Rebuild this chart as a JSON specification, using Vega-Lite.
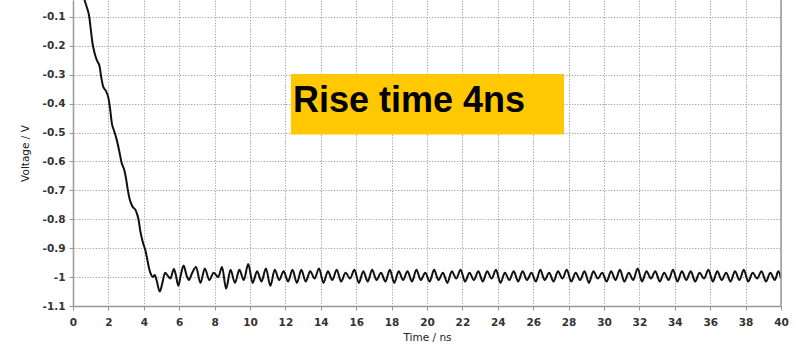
{
  "$schema": "https://vega.github.io/schema/vega-lite/v6.json",
  "width": 708,
  "height": 306,
  "autosize": {"type": "none"},
  "padding": {"left": 73, "top": 0, "right": 13, "bottom": 45},
  "config": {
    "view": {"stroke": null},
    "axis": {
      "labelFont": "DejaVu Sans",
      "labelFontWeight": "bold",
      "labelFontSize": 10.5,
      "labelColor": "#333333",
      "labelOverlap": false,
      "titleFont": "DejaVu Sans",
      "titleFontWeight": "normal",
      "titleFontSize": 10.5,
      "titleColor": "#222222",
      "domainColor": "#999999",
      "domainWidth": 1.5,
      "tickColor": "#999999",
      "tickSize": 4,
      "gridColor": "#a0a0a0",
      "gridDash": [1.2, 1.6],
      "gridWidth": 1
    }
  },
  "datasets": {
    "wave": [
      {"t": 0.55, "v": -0.0},
      {"t": 0.65, "v": -0.04},
      {"t": 0.75, "v": -0.06},
      {"t": 0.92, "v": -0.1},
      {"t": 1.0, "v": -0.14},
      {"t": 1.1, "v": -0.19},
      {"t": 1.2, "v": -0.22},
      {"t": 1.35, "v": -0.25},
      {"t": 1.5, "v": -0.27},
      {"t": 1.6, "v": -0.31},
      {"t": 1.7, "v": -0.34},
      {"t": 1.85, "v": -0.355},
      {"t": 2.0, "v": -0.38},
      {"t": 2.1, "v": -0.42},
      {"t": 2.2, "v": -0.47},
      {"t": 2.3, "v": -0.49},
      {"t": 2.45, "v": -0.52},
      {"t": 2.6, "v": -0.56},
      {"t": 2.75, "v": -0.605},
      {"t": 2.9, "v": -0.63},
      {"t": 3.0, "v": -0.66},
      {"t": 3.1, "v": -0.7},
      {"t": 3.2, "v": -0.73},
      {"t": 3.35, "v": -0.755},
      {"t": 3.55, "v": -0.77},
      {"t": 3.7, "v": -0.8},
      {"t": 3.8, "v": -0.84},
      {"t": 3.95, "v": -0.88},
      {"t": 4.1, "v": -0.91},
      {"t": 4.2, "v": -0.94},
      {"t": 4.3, "v": -0.97},
      {"t": 4.4, "v": -0.99},
      {"t": 4.5, "v": -1.0},
      {"t": 4.62, "v": -0.993},
      {"t": 4.72, "v": -1.01},
      {"t": 4.9, "v": -1.05},
      {"t": 5.05, "v": -1.02},
      {"t": 5.2, "v": -0.985},
      {"t": 5.35, "v": -0.995},
      {"t": 5.5, "v": -1.005},
      {"t": 5.7, "v": -0.972},
      {"t": 5.8, "v": -0.99},
      {"t": 5.95, "v": -1.03},
      {"t": 6.1, "v": -0.99},
      {"t": 6.25, "v": -0.96},
      {"t": 6.42, "v": -0.995},
      {"t": 6.55, "v": -1.01},
      {"t": 6.7, "v": -0.99},
      {"t": 6.95, "v": -0.965},
      {"t": 7.2, "v": -1.02},
      {"t": 7.45, "v": -0.97},
      {"t": 7.7, "v": -1.01},
      {"t": 7.95, "v": -0.985},
      {"t": 8.2, "v": -1.0},
      {"t": 8.42, "v": -0.965},
      {"t": 8.65, "v": -1.04},
      {"t": 8.9, "v": -0.975},
      {"t": 9.15, "v": -1.02},
      {"t": 9.4, "v": -0.975},
      {"t": 9.65, "v": -1.01},
      {"t": 9.9, "v": -0.955},
      {"t": 10.15, "v": -1.02},
      {"t": 10.4, "v": -0.98},
      {"t": 10.65, "v": -1.015},
      {"t": 10.9, "v": -0.97},
      {"t": 11.15, "v": -1.03},
      {"t": 11.4, "v": -0.975},
      {"t": 11.65, "v": -1.01},
      {"t": 11.9, "v": -0.98},
      {"t": 12.15, "v": -1.015},
      {"t": 12.4, "v": -0.975},
      {"t": 12.65, "v": -1.02},
      {"t": 12.9, "v": -0.975},
      {"t": 13.15, "v": -1.015},
      {"t": 13.4, "v": -0.98},
      {"t": 13.65, "v": -1.005},
      {"t": 13.9, "v": -0.97},
      {"t": 14.15, "v": -1.02},
      {"t": 14.4, "v": -0.98},
      {"t": 14.65, "v": -1.01},
      {"t": 14.9, "v": -0.975},
      {"t": 15.15, "v": -1.015},
      {"t": 15.4, "v": -0.985},
      {"t": 15.65, "v": -1.005},
      {"t": 15.9, "v": -0.975},
      {"t": 16.15, "v": -1.02},
      {"t": 16.4, "v": -0.98},
      {"t": 16.65, "v": -1.015},
      {"t": 16.9, "v": -0.975},
      {"t": 17.15, "v": -1.01},
      {"t": 17.4, "v": -0.985},
      {"t": 17.65, "v": -1.015},
      {"t": 17.9, "v": -0.975},
      {"t": 18.15, "v": -1.02},
      {"t": 18.4, "v": -0.98},
      {"t": 18.65, "v": -1.01},
      {"t": 18.9, "v": -0.98},
      {"t": 19.15, "v": -1.015},
      {"t": 19.4, "v": -0.975},
      {"t": 19.65, "v": -1.01},
      {"t": 19.9, "v": -0.985},
      {"t": 20.15, "v": -1.015},
      {"t": 20.4, "v": -0.975},
      {"t": 20.65, "v": -1.01},
      {"t": 20.9, "v": -0.985},
      {"t": 21.15, "v": -1.02},
      {"t": 21.4, "v": -0.98},
      {"t": 21.65, "v": -1.005},
      {"t": 21.9, "v": -0.975},
      {"t": 22.15, "v": -1.015},
      {"t": 22.4, "v": -0.985},
      {"t": 22.65, "v": -1.01},
      {"t": 22.9, "v": -0.98},
      {"t": 23.15, "v": -1.015},
      {"t": 23.4, "v": -0.98},
      {"t": 23.65, "v": -1.005},
      {"t": 23.9, "v": -0.975},
      {"t": 24.15, "v": -1.02},
      {"t": 24.4, "v": -0.985},
      {"t": 24.65, "v": -1.01},
      {"t": 24.9, "v": -0.98},
      {"t": 25.15, "v": -1.015},
      {"t": 25.4, "v": -0.98},
      {"t": 25.65, "v": -1.01},
      {"t": 25.9, "v": -0.985},
      {"t": 26.15, "v": -1.015},
      {"t": 26.4, "v": -0.975},
      {"t": 26.65, "v": -1.01},
      {"t": 26.9, "v": -0.985},
      {"t": 27.15, "v": -1.015},
      {"t": 27.4, "v": -0.98},
      {"t": 27.65, "v": -1.005},
      {"t": 27.9, "v": -0.975},
      {"t": 28.15, "v": -1.015},
      {"t": 28.4, "v": -0.985},
      {"t": 28.65, "v": -1.01},
      {"t": 28.9, "v": -0.98},
      {"t": 29.15, "v": -1.02},
      {"t": 29.4, "v": -0.98},
      {"t": 29.65, "v": -1.005},
      {"t": 29.9, "v": -0.985},
      {"t": 30.15, "v": -1.015},
      {"t": 30.4, "v": -0.98},
      {"t": 30.65, "v": -1.01},
      {"t": 30.9, "v": -0.975},
      {"t": 31.15, "v": -1.015},
      {"t": 31.4, "v": -0.985},
      {"t": 31.65, "v": -1.01},
      {"t": 31.9, "v": -0.97},
      {"t": 32.15, "v": -1.015},
      {"t": 32.4, "v": -0.98},
      {"t": 32.65, "v": -1.005},
      {"t": 32.9, "v": -0.98},
      {"t": 33.15, "v": -1.015},
      {"t": 33.4, "v": -0.985},
      {"t": 33.65, "v": -1.01},
      {"t": 33.9, "v": -0.975},
      {"t": 34.15, "v": -1.015},
      {"t": 34.4, "v": -0.98},
      {"t": 34.65, "v": -1.01},
      {"t": 34.9, "v": -0.98},
      {"t": 35.15, "v": -1.015},
      {"t": 35.4, "v": -0.985},
      {"t": 35.65, "v": -1.005},
      {"t": 35.9, "v": -0.975},
      {"t": 36.15, "v": -1.015},
      {"t": 36.4, "v": -0.98},
      {"t": 36.65, "v": -1.01},
      {"t": 36.9, "v": -0.985},
      {"t": 37.15, "v": -1.015},
      {"t": 37.4, "v": -0.98},
      {"t": 37.65, "v": -1.01},
      {"t": 37.9, "v": -0.975},
      {"t": 38.15, "v": -1.015},
      {"t": 38.4, "v": -0.985},
      {"t": 38.65, "v": -1.005},
      {"t": 38.9, "v": -0.98},
      {"t": 39.15, "v": -1.015},
      {"t": 39.4, "v": -0.985},
      {"t": 39.65, "v": -1.01},
      {"t": 39.85, "v": -0.98},
      {"t": 40.0, "v": -1.005}
    ],
    "note": [
      {"x1": 12.31, "x2": 27.74, "y1": -0.297, "y2": -0.507, "tx": 12.43, "ty": -0.429, "label": "Rise time 4ns", "b": 40}
    ]
  },
  "encoding": {
    "x": {
      "type": "quantitative",
      "scale": {"domain": [0, 40], "nice": false, "zero": false},
      "axis": {
        "title": "Time / ns",
        "values": [0, 2, 4, 6, 8, 10, 12, 14, 16, 18, 20, 22, 24, 26, 28, 30, 32, 34, 36, 38, 40],
        "labelOverlap": false,
        "labelPadding": 7,
        "titlePadding": 5,
        "labelFlush": false
      }
    },
    "y": {
      "type": "quantitative",
      "scale": {"domain": [-1.1, -0.0412], "nice": false, "zero": false},
      "axis": {
        "title": "Voltage / V",
        "values": [-1.1, -1, -0.9, -0.8, -0.7, -0.6, -0.5, -0.4, -0.3, -0.2, -0.1],
        "labelOverlap": false,
        "labelExpr": "replace(format(datum.value, '.1~f'), '\u2212', '-')",
        "labelPadding": 4,
        "titlePadding": 12
      }
    }
  },
  "layer": [
    {
      "data": {"name": "wave"},
      "mark": {"type": "line", "color": "#111111", "strokeWidth": 2, "interpolate": "monotone", "clip": true},
      "encoding": {
        "x": {"field": "t"},
        "y": {"field": "v"}
      }
    },
    {
      "data": {"name": "note"},
      "mark": {"type": "rule", "color": "#999999", "strokeWidth": 1.5},
      "encoding": {"x": {"field": "b"}, "y": null}
    },
    {
      "data": {"name": "note"},
      "mark": {"type": "rect", "color": "#FFC800"},
      "encoding": {
        "x": {"field": "x1"},
        "x2": {"field": "x2"},
        "y": {"field": "y1"},
        "y2": {"field": "y2"}
      }
    },
    {
      "data": {"name": "note"},
      "mark": {"type": "text", "font": "Liberation Sans", "fontWeight": "bold", "fontSize": 36, "color": "#000000", "align": "left", "baseline": "alphabetic"},
      "encoding": {
        "x": {"field": "tx"},
        "y": {"field": "ty"},
        "text": {"field": "label"}
      }
    }
  ]
}
